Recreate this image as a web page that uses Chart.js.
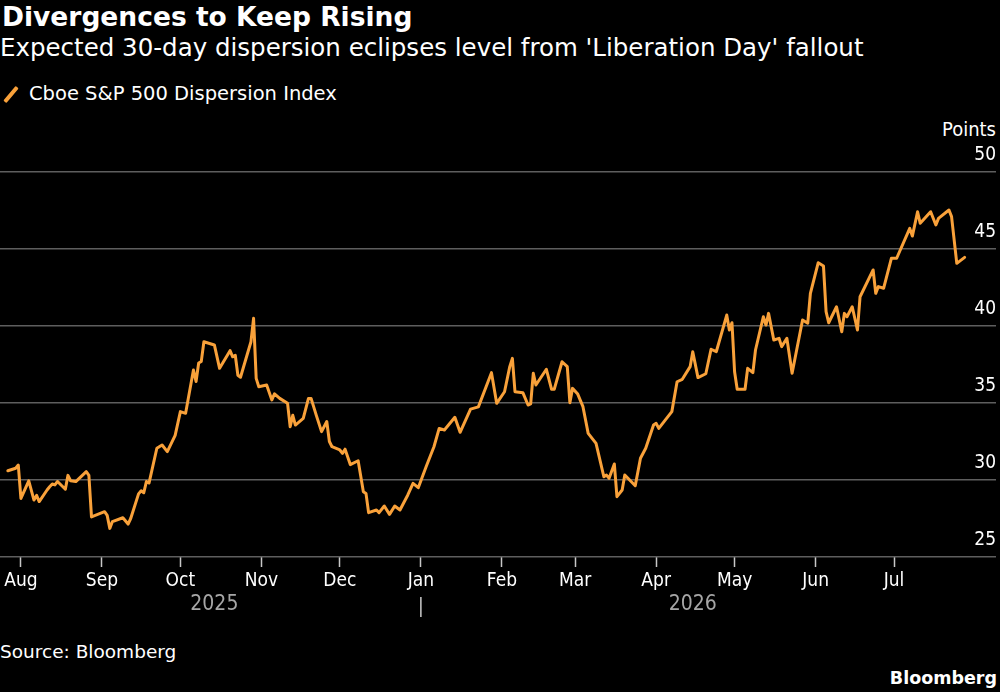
<!DOCTYPE html>
<html>
<head>
<meta charset="utf-8">
<script src="https://cdn.jsdelivr.net/npm/chart.js@4.4.1/dist/chart.umd.min.js"></script>
<style>
  html, body { margin: 0; padding: 0; background: #000; }
  body { width: 1000px; height: 692px; position: relative; overflow: hidden; color: #fff;
         font-family: "DejaVu Sans", sans-serif; }
  .txt { position: absolute; white-space: nowrap; line-height: 1; }
  #title { left: 2px; top: 4px; font-size: 26.5px; font-weight: bold; }
  #subtitle { left: 0; top: 36px; font-size: 24.5px; }
  #legend { left: 29px; top: 84px; font-size: 19.5px; }
  #legendMark { position: absolute; left: 9px; top: 85px; width: 4px; height: 19px; background: #f9a13a; transform: rotate(40deg); border-radius: 1px; }
  #unit { right: 4px; top: 119px; font-size: 20px; font-family: "DejaVu Sans Condensed", "DejaVu Sans", sans-serif; font-stretch: condensed; }
  #source { left: 0; top: 643px; font-size: 18.5px; }
  #brand { right: 3px; top: 670px; font-size: 17.5px; font-weight: bold; }
  canvas { position: absolute; left: 0; top: 0; }
</style>
</head>
<body>
<div class="txt" id="title">Divergences to Keep Rising</div>
<div class="txt" id="subtitle">Expected 30-day dispersion eclipses level from 'Liberation Day' fallout</div>
<div id="legendMark"></div>
<div class="txt" id="legend">Cboe S&amp;P 500 Dispersion Index</div>
<div class="txt" id="unit">Points</div>
<div class="txt" id="source">Source: Bloomberg</div>
<div class="txt" id="brand">Bloomberg</div>
<canvas id="chart" width="1000" height="692"></canvas>
<script>
// days counted from 1 Aug 2025
const days = [
  -5, -2, -1, 0, 3, 5, 6, 7, 10, 11, 12, 13, 14, 17, 18, 19, 21, 25, 26, 27,
  32, 33, 34, 35, 39, 41, 42, 45, 46, 47, 48, 49, 52, 54, 56, 59,
  61, 63, 66, 67, 68, 69, 70, 74, 76, 80, 81, 82, 83, 84, 88, 89, 90, 91,
  94, 96, 97, 99, 102, 103, 104, 105, 108, 110, 111, 113, 115, 117, 118, 119,
  122, 123, 124, 126, 129, 131, 132, 133, 136, 137, 139, 141, 143, 145, 148, 150, 152,
  155, 158, 160, 162, 166, 168, 172, 175, 180, 182,
  185, 187, 188, 189, 192, 194, 195, 196, 197, 201, 203, 204, 207, 209, 210, 211,
  213, 215, 217, 220, 223, 224, 225, 227, 228, 230, 231, 235, 237, 239, 242,
  243, 244, 249, 251, 253, 256, 257, 259, 262, 264, 266, 270, 271, 272,
  273, 274, 277, 278, 280, 281, 284, 285, 286, 288, 290, 291, 293, 295, 299, 301, 302,
  305, 307, 308, 309, 312, 314, 315, 316, 318, 320, 321, 326, 327, 328, 330, 333,
  335, 340, 341, 343, 344, 348, 350, 351, 355, 356, 358, 361
];
const dispersion = [
  30.6, 30.76, 30.97, 28.8, 29.95, 28.7, 29.0, 28.6, 29.35, 29.56, 29.74, 29.68, 29.9, 29.4, 30.3, 29.95, 29.9, 30.54, 30.3, 27.6,
  27.94, 27.7, 26.86, 27.3, 27.55, 27.14, 27.5, 29.1, 29.3, 29.17, 29.9, 29.8, 32.06, 32.27, 31.84, 32.9,
  34.44, 34.33, 37.14, 36.4, 37.6, 37.7, 38.98, 38.77, 37.25, 38.4, 38.0, 38.1, 36.8, 36.67, 38.98, 40.5, 36.6, 36.06,
  36.17, 35.2, 35.6, 35.3, 34.98, 33.46, 34.2, 33.57, 34.0, 35.3, 35.3, 34.2, 33.14, 33.8, 32.5, 32.16,
  31.95, 31.73, 32.0, 31.0, 31.25, 29.24, 29.13, 27.88, 28.05, 27.88, 28.31, 27.77, 28.31, 28.05, 29.03, 29.78, 29.5,
  30.86, 32.16, 33.35, 33.25, 34.07, 33.1, 34.6, 34.75, 36.97, 34.98,
  35.73, 37.36, 37.9, 35.73, 35.67, 34.87, 34.94, 36.93, 36.17, 37.19, 35.89, 35.89, 37.68, 37.36, 35.02, 35.95,
  35.58, 34.76, 33.03, 32.38, 30.21, 30.32, 30.11, 31.04, 28.92, 29.35, 30.32, 29.63, 31.41, 32.06, 33.57,
  33.68, 33.35, 34.44, 36.38, 36.54, 37.36, 38.33, 36.65, 36.9, 38.49, 38.33, 40.71, 39.74, 40.21,
  37.03, 35.89, 35.89, 37.25, 36.97, 38.44, 40.6, 40.06, 40.82, 39.09, 39.2, 38.66, 39.2, 36.93, 40.39, 40.18, 42.12,
  44.11, 43.9, 40.93, 40.21, 41.25, 39.63, 40.82, 40.6, 41.25, 39.74, 41.9, 43.64, 42.12, 42.56, 42.45, 44.4,
  44.4, 46.34, 45.84, 47.42, 46.67, 47.42, 46.56, 46.99, 47.53, 47.1, 44.07, 44.46
];

// month ticks (first day of each month, in days from 1 Aug 2025)
const monthStarts = [0, 31, 61, 92, 122, 153, 184, 212, 243, 273, 304, 334];
const monthLabels = ['Aug', 'Sep', 'Oct', 'Nov', 'Dec', 'Jan', 'Feb', 'Mar', 'Apr', 'May', 'Jun', 'Jul'];
const yearLabels = ['2025', '2026'];
const yearBreak = 153; // 1 Jan 2026
const yTicks = [25, 30, 35, 40, 45, 50];

const colors = {
    line: '#f9a13a',
    grid: '#5e5e5e',
    text: '#ffffff',
    year: '#a6a6a6'
};
const condensed = '"DejaVu Sans Condensed", "DejaVu Sans", sans-serif';
const tickFont = { family: condensed, size: 19 };

// year labels under the month ticks, plus the separator at Jan
const yearRow = {
    id: 'yearRow',
    afterDraw(chart) {
        const ctx = chart.ctx;
        const xs = chart.scales.x;
        const janPx = xs.getPixelForValue(yearBreak);
        const first = xs.getPixelForValue(days[0]);
        const last = xs.getPixelForValue(days[days.length - 1]);
        ctx.save();
        ctx.fillStyle = colors.year;
        ctx.font = '21px ' + condensed;
        ctx.textAlign = 'center';
        ctx.textBaseline = 'middle';
        ctx.fillText(yearLabels[0], (first + janPx) / 2, 605);
        ctx.fillText(yearLabels[1], (janPx + last) / 2, 605);
        ctx.strokeStyle = '#cccccc';
        ctx.lineWidth = 1.5;
        ctx.beginPath();
        ctx.moveTo(janPx, 597);
        ctx.lineTo(janPx, 617);
        ctx.stroke();
        ctx.restore();
    }
};

new Chart(document.getElementById('chart').getContext('2d'), {
    type: 'line',
    data: {
        datasets: [{
            label: 'Cboe S&P 500 Dispersion Index',
            data: days.map((d, i) => ({ x: d, y: dispersion[i] })),
            borderColor: colors.line,
            borderWidth: 3,
            pointRadius: 0,
            tension: 0,
            borderJoinStyle: 'round',
            borderCapStyle: 'round'
        }]
    },
    options: {
        responsive: false,
        animation: false,
        events: [],
        layout: { padding: { top: 172, left: 0, right: 0, bottom: 0 } },
        plugins: {
            legend: { display: false },
            tooltip: { enabled: false }
        },
        scales: {
            x: {
                type: 'linear',
                min: -8,
                max: 373,
                afterBuildTicks: scale => { scale.ticks = monthStarts.map(v => ({ value: v })); },
                afterFit: scale => { scale.height = 135; },
                ticks: {
                    color: colors.text,
                    font: tickFont,
                    padding: 3,
                    maxRotation: 0,
                    autoSkip: false,
                    callback: (v, i) => monthLabels[i]
                },
                grid: { drawOnChartArea: false, tickLength: 10, tickColor: '#c8c8c8', tickWidth: 1.5 },
                border: { display: false }
            },
            y: {
                position: 'right',
                min: 25,
                max: 50,
                afterBuildTicks: scale => { scale.ticks = yTicks.map(v => ({ value: v })); },
                afterFit: scale => { scale.width = 4; },
                ticks: {
                    mirror: true,
                    padding: 0,
                    labelOffset: -17,
                    color: colors.text,
                    font: tickFont
                },
                grid: { color: colors.grid, lineWidth: 1.5, drawTicks: false },
                border: { display: false }
            }
        }
    },
    plugins: [yearRow]
});
</script>
</body>
</html>
